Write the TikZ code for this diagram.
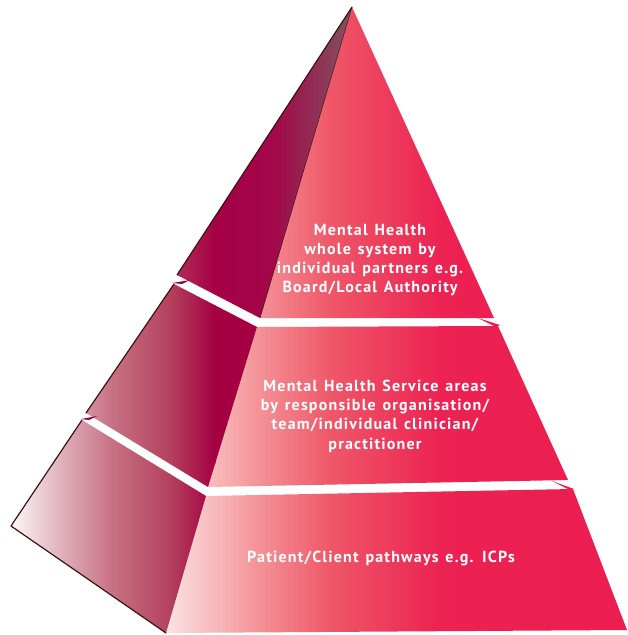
\documentclass[tikz,border=0pt]{standalone}
\usepackage{fontspec}
\setmainfont{PT Sans}
\newfontfamily\tierfont{PT Sans}[LetterSpace=7.5,WordSpace=1.3]
\begin{document}
\begin{tikzpicture}[x=1pt,y=-1pt,
  tiertext/.style={text=white,font=\tierfont\bfseries\fontsize{16}{19.3}\selectfont,align=center,inner sep=0pt},
  outline/.style={draw=edgebrown,line width=1.2pt,line join=round,line cap=round},
  ridge/.style={draw=edgebrown,line width=0.5pt}]
% palette
\definecolor{edgebrown}{HTML}{3A1410}
\definecolor{fA}{HTML}{FDF0F0}
\definecolor{fB}{HTML}{F4999D}
\definecolor{fC}{HTML}{EF5768}
\definecolor{fD}{HTML}{EC2252}
\definecolor{fE}{HTML}{EC1C50}
\definecolor{lA}{HTML}{FFFFFF}
\definecolor{lB}{HTML}{E0B2BC}
\definecolor{lC}{HTML}{C87386}
\definecolor{lD}{HTML}{B3405E}
\definecolor{lE}{HTML}{A50042}
\definecolor{tA}{HTML}{B03558}
\definecolor{tB}{HTML}{A50045}
\definecolor{tC}{HTML}{A2084A}
\definecolor{tD}{HTML}{7D5B63}
\newcommand\gradband[4]{\shade[left color=#3,right color=#4] (#1,-5) rectangle (#2,645);}

\useasboundingbox (0,0) rectangle (628,635);

% vertices
\coordinate (apex) at (352,7);
% top tier
\coordinate (t1l) at (177,275);
\coordinate (t1f) at (260,318);
\coordinate (t1r) at (494,318);
% middle tier
\coordinate (t2l) at (174,284);
\coordinate (t2f) at (257,327);
\coordinate (t2r) at (498,326);
\coordinate (t2br) at (568,480);
\coordinate (t2bf) at (208,487);
\coordinate (t2bl) at (86,413);
% bottom tier
\coordinate (t3l) at (82,420);
\coordinate (t3f) at (206,496);
\coordinate (t3r) at (573,489);
\coordinate (t3br) at (627,630);
\coordinate (t3bf) at (166,633);
\coordinate (t3bl) at (11,526);

% front faces
\begin{scope}
  \clip (apex) -- (t1f) -- (t1r) -- cycle
        (t2f) -- (t2r) -- (t2br) -- (t2bf) -- cycle
        (t3f) -- (t3r) -- (t3br) -- (t3bf) -- cycle;
  \gradband{150}{250.6}{fA}{fB}
  \gradband{250}{330.6}{fB}{fC}
  \gradband{330}{440.6}{fC}{fD}
  \gradband{440}{640}{fD}{fE}
\end{scope}

% left faces of the two lower tiers
\begin{scope}
  \clip (t2l) -- (t2f) -- (t2bf) -- (t2bl) -- cycle
        (t3l) -- (t3f) -- (t3bf) -- (t3bl) -- cycle;
  \gradband{5}{60.6}{lA}{lB}
  \gradband{60}{110.6}{lB}{lC}
  \gradband{110}{170.6}{lC}{lD}
  \gradband{170}{215.6}{lD}{lE}
  \gradband{215}{270}{lE}{lE}
\end{scope}

% left face of the top tier
\begin{scope}
  \clip (apex) -- (t1l) -- (t1f) -- cycle;
  \gradband{170}{215.6}{tA}{tB}
  \gradband{215}{275.6}{tB}{tC}
  \gradband{275}{360}{tC}{tD}
\end{scope}

% thin top-face slivers at the tier ends
\fill[fE] (478,318) -- (500,325) -- (496,327) -- cycle;
\fill[fE] (552,481) -- (574,489) -- (570,490) -- cycle;
\fill[lE] (172,283) -- (190,280) -- (182,284) -- cycle;
\fill[lE] (81,419) -- (97,416) -- (89,420) -- cycle;

% outlines
\draw[ridge] (apex) -- (t1f);
\draw[outline] (apex) -- (t1l);
\draw[outline] (t2l) -- (t2bl);
\draw[outline] (t3l) -- (t3bl) -- (t3bf);

% labels
\node[tiertext] (top) at (370,260)
  {Mental Health\\whole system by\\individual partners e.g.\\Board/Local Authority};
\node[tiertext] (mid) at (375,416)
  {Mental Health Service areas\\by responsible organisation/\\team/individual clinician/\\practitioner};
\node[tiertext] (base) at (381,558) {Patient/Client pathways e.g. ICPs};
\end{tikzpicture}
\end{document}
